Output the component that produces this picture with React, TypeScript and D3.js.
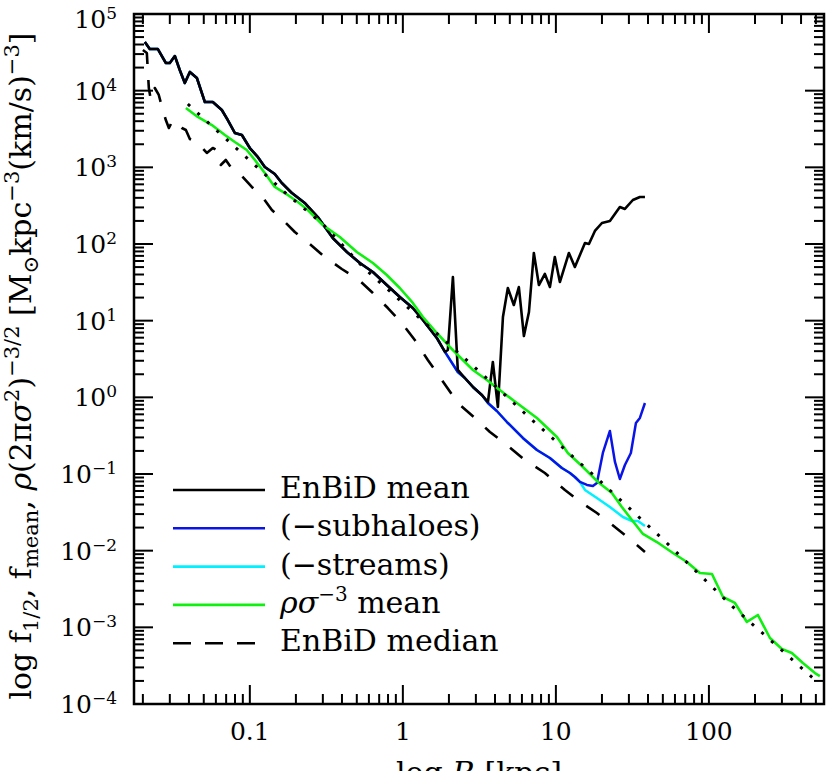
import React from 'react';
import * as d3 from 'd3';

// ---- axes ----
const X_DOMAIN: [number, number] = [0.0175, 565];
const Y_DOMAIN: [number, number] = [1e-4, 1e5];
const X_MAJOR = [0.1, 1, 10, 100];
const X_MAJOR_LABELS = ['0.1', '1', '10', '100'];
const Y_MAJOR_EXP = [-4, -3, -2, -1, 0, 1, 2, 3, 4, 5];

// ---- data: [log10 R (kpc), log10 f] ----
// inner part shared by EnBiD mean, (-subhaloes) and (-streams)
const sharedInner: [number, number][] = [
  [-1.686, 4.635], [-1.654, 4.543], [-1.601, 4.543], [-1.549, 4.361], [-1.523, 4.361],
  [-1.490, 4.452], [-1.458, 4.270], [-1.425, 4.100], [-1.392, 4.244], [-1.346, 4.165],
  [-1.294, 3.852], [-1.242, 3.852], [-1.183, 3.748], [-1.144, 3.617], [-1.098, 3.448],
  [-1.052, 3.422], [-1.000, 3.252], [-0.948, 3.135], [-0.902, 3.004], [-0.837, 2.913],
  [-0.791, 2.796], [-0.725, 2.665], [-0.641, 2.535], [-0.556, 2.352], [-0.458, 2.078],
  [-0.366, 1.896], [-0.281, 1.752], [-0.196, 1.635], [-0.105, 1.465], [-0.020, 1.309],
  [0.065, 1.165], [0.131, 1.009], [0.222, 0.774], [0.275, 0.592],
];
const meanOuter: [number, number][] = [
  [0.294, 0.618], [0.327, 1.570], [0.359, 0.357], [0.405, 0.252], [0.458, 0.135],
  [0.516, 0.031], [0.556, -0.061], [0.588, 0.461], [0.621, -0.126], [0.654, 1.048],
  [0.686, 1.426], [0.725, 1.204], [0.758, 1.439], [0.791, 0.800], [0.824, 1.113],
  [0.856, 1.883], [0.889, 1.465], [0.928, 1.609], [0.961, 1.439], [0.993, 1.831],
  [1.026, 1.504], [1.085, 1.883], [1.124, 1.700], [1.190, 2.013], [1.216, 2.000],
  [1.255, 2.170], [1.301, 2.274], [1.353, 2.300], [1.418, 2.483], [1.451, 2.457],
  [1.503, 2.574], [1.549, 2.613], [1.582, 2.613],
];
const subhaloMid: [number, number][] = [
  [0.359, 0.331], [0.405, 0.252], [0.458, 0.135], [0.516, 0.031], [0.556, -0.074],
  [0.614, -0.178], [0.680, -0.322], [0.784, -0.530], [0.876, -0.687], [0.961, -0.791],
  [1.039, -0.922], [1.092, -0.987], [1.124, -1.039], [1.157, -1.104],
];
const subhaloTail: [number, number][] = [
  [1.203, -1.143], [1.242, -1.156], [1.268, -1.117], [1.307, -0.726], [1.353, -0.439],
  [1.386, -0.843], [1.418, -1.065], [1.451, -0.882], [1.490, -0.726], [1.523, -0.335],
  [1.549, -0.269], [1.582, -0.074],
];
const streamsTail: [number, number][] = [
  [1.190, -1.208], [1.268, -1.313], [1.353, -1.430], [1.438, -1.561], [1.497, -1.613],
  [1.536, -1.613], [1.582, -1.678],
];
const rhoSigmaMean: [number, number][] = [
  [-1.418, 3.774], [-1.340, 3.657], [-1.248, 3.552], [-1.163, 3.422], [-1.098, 3.330],
  [-1.020, 3.226], [-0.967, 3.096], [-0.902, 2.926], [-0.837, 2.744], [-0.771, 2.665],
  [-0.686, 2.548], [-0.621, 2.444], [-0.523, 2.248], [-0.412, 2.091], [-0.301, 1.896],
  [-0.196, 1.752], [-0.105, 1.596], [-0.020, 1.426], [0.065, 1.231], [0.131, 1.048],
  [0.222, 0.839], [0.307, 0.657], [0.392, 0.487], [0.458, 0.357], [0.549, 0.226],
  [0.719, -0.035], [0.876, -0.269], [1.007, -0.517], [1.078, -0.726], [1.170, -0.896],
  [1.275, -1.104], [1.366, -1.248], [1.431, -1.430], [1.497, -1.600], [1.569, -1.782],
  [1.660, -1.887], [1.765, -2.030], [1.856, -2.148], [1.941, -2.291], [2.020, -2.304],
  [2.092, -2.604], [2.170, -2.682], [2.248, -2.930], [2.320, -2.839], [2.399, -3.139],
  [2.477, -3.283], [2.542, -3.335], [2.614, -3.465], [2.693, -3.596], [2.725, -3.635],
];
const enbidMedian: [number, number][] = [
  [-1.699, 4.530], [-1.673, 4.491], [-1.667, 4.270], [-1.660, 4.035], [-1.647, 3.878],
  [-1.621, 4.035], [-1.595, 3.944], [-1.569, 3.748], [-1.549, 3.617], [-1.529, 3.513],
  [-1.503, 3.617], [-1.444, 3.513], [-1.418, 3.487], [-1.392, 3.370], [-1.346, 3.330],
  [-1.281, 3.187], [-1.242, 3.252], [-1.216, 3.226], [-1.190, 3.030], [-1.157, 3.096],
  [-1.111, 2.965], [-1.052, 2.887], [-0.987, 2.744], [-0.922, 2.626], [-0.856, 2.444],
  [-0.784, 2.313], [-0.706, 2.157], [-0.608, 2.000], [-0.510, 1.831], [-0.399, 1.674],
  [-0.294, 1.544], [-0.203, 1.374], [-0.098, 1.165], [-0.007, 0.970], [0.078, 0.748],
  [0.163, 0.487], [0.255, 0.226], [0.359, -0.074], [0.471, -0.269], [0.569, -0.452],
  [0.680, -0.622], [0.797, -0.817], [0.928, -0.987], [1.059, -1.209], [1.170, -1.378],
  [1.268, -1.509], [1.353, -1.639], [1.418, -1.743], [1.484, -1.848], [1.582, -2.017],
];
const dottedFit: [number, number][] = [
  [-1.405, 3.826], [-1.098, 3.265], [-0.752, 2.639], [-0.523, 2.261], [-0.261, 1.700],
  [0.065, 1.113], [0.503, 0.331], [0.830, -0.269], [1.288, -1.091], [1.725, -1.900],
  [2.157, -2.734], [2.379, -3.126], [2.686, -3.674],
];

const enbidMean = [...sharedInner, ...meanOuter];
const minusSubhaloes = [...sharedInner, ...subhaloMid, ...subhaloTail];
const minusStreams = [...sharedInner, ...subhaloMid, ...streamsTail];

const legendItems = [
  { key: 'mean', color: '#000000', dash: '' },
  { key: 'sub', color: '#0a14e6', dash: '' },
  { key: 'str', color: '#00f0ff', dash: '' },
  { key: 'rho', color: '#10f010', dash: '' },
  { key: 'med', color: '#000000', dash: '18 14' },
];

export default function App() {
  const W = 830, H = 771;
  const L = 134, R = 824, T = 14, B = 704;
  const x = d3.scaleLog().domain(X_DOMAIN).range([L, R]);
  const y = d3.scaleLog().domain(Y_DOMAIN).range([B, T]);
  const line = d3.line<[number, number]>()
    .x((d) => x(Math.pow(10, d[0])))
    .y((d) => y(Math.pow(10, d[1])));

  const xMinor: number[] = [];
  for (let e = -2; e <= 2; e++) for (let m = 2; m <= 9; m++) {
    const v = m * Math.pow(10, e);
    if (v > X_DOMAIN[0] && v < X_DOMAIN[1]) xMinor.push(v);
  }
  const yMinor: number[] = [];
  for (let e = -4; e <= 4; e++) for (let m = 2; m <= 9; m++) yMinor.push(m * Math.pow(10, e));

  const MAJ = 19, MIN = 10;
  const tickStroke = 2;
  const font = 'DejaVu Serif';

  const legendY0 = 490, legendDy = 38.3;

  return (
    <div style={{ position: 'absolute', left: 0, top: 0 }}>
      <svg width={W} height={H} fontFamily={font} style={{ display: 'block', background: '#fff' }}>
        {/* curves */}
        <g fill="none" strokeLinejoin="round" strokeLinecap="butt">
          <path d={line(minusStreams) || ''} stroke="#00f0ff" strokeWidth={2.5} />
          <path d={line(minusSubhaloes) || ''} stroke="#0a14e6" strokeWidth={2.5} />
          <path d={line(enbidMean) || ''} stroke="#000" strokeWidth={2.6} />
          <path d={line(enbidMedian) || ''} stroke="#000" strokeWidth={2.6} strokeDasharray="16 16" />
          <path d={line(rhoSigmaMean) || ''} stroke="#10f010" strokeWidth={2.6} />
          <path d={line(dottedFit) || ''} stroke="#000" strokeWidth={3} strokeDasharray="3 10" />
        </g>

        {/* frame */}
        <rect x={L} y={T} width={R - L} height={B - T} fill="none" stroke="#000" strokeWidth={2.5} />

        {/* ticks on all four sides */}
        <g stroke="#000" strokeWidth={tickStroke}>
          {X_MAJOR.map((v) => (
            <g key={'xM' + v}>
              <line x1={x(v)} x2={x(v)} y1={B} y2={B - MAJ} />
              <line x1={x(v)} x2={x(v)} y1={T} y2={T + MAJ} />
            </g>
          ))}
          {xMinor.map((v) => (
            <g key={'xm' + v}>
              <line x1={x(v)} x2={x(v)} y1={B} y2={B - MIN} />
              <line x1={x(v)} x2={x(v)} y1={T} y2={T + MIN} />
            </g>
          ))}
          {Y_MAJOR_EXP.map((e) => (
            <g key={'yM' + e}>
              <line x1={L} x2={L + MAJ} y1={y(Math.pow(10, e))} y2={y(Math.pow(10, e))} />
              <line x1={R} x2={R - MAJ} y1={y(Math.pow(10, e))} y2={y(Math.pow(10, e))} />
            </g>
          ))}
          {yMinor.map((v) => (
            <g key={'ym' + v}>
              <line x1={L} x2={L + MIN} y1={y(v)} y2={y(v)} />
              <line x1={R} x2={R - MIN} y1={y(v)} y2={y(v)} />
            </g>
          ))}
        </g>

        {/* x tick labels */}
        {X_MAJOR.map((v, i) => (
          <text key={'xl' + v} x={x(v)} y={740} fontSize={25} textAnchor="middle">{X_MAJOR_LABELS[i]}</text>
        ))}
        {/* y tick labels */}
        {Y_MAJOR_EXP.map((e) => (
          <text key={'yl' + e} x={117} y={y(Math.pow(10, e)) + (e === 5 ? 14 : 9)} fontSize={25} textAnchor="end">
            10<tspan fontSize={17} dy={-9}>{e < 0 ? '\u2212' + Math.abs(e) : String(e)}</tspan>
          </text>
        ))}

        {/* axis titles */}
        <text x={(L + R) / 2} y={783} fontSize={30} textAnchor="middle">
          log <tspan fontStyle="italic">R</tspan> [kpc]
        </text>
        <text transform="translate(31, 366) rotate(-90)" fontSize={30} textAnchor="middle">
          log f<tspan fontSize={21} dy={7}>1/2</tspan><tspan dy={-7}>, f</tspan><tspan fontSize={21} dy={7}>mean</tspan><tspan dy={-7}>, </tspan><tspan fontStyle="italic">ρ</tspan>(2π<tspan fontStyle="italic">σ</tspan><tspan fontSize={21} dy={-12}>2</tspan><tspan dy={12}>)</tspan><tspan fontSize={21} dy={-12}>−3/2</tspan><tspan dy={12}> [M</tspan><tspan fontSize={21} dy={7}>⊙</tspan><tspan dy={-7}>kpc</tspan><tspan fontSize={21} dy={-12}>−3</tspan><tspan dy={12}>(km/s)</tspan><tspan fontSize={21} dy={-12}>−3</tspan><tspan dy={12}>]</tspan>
        </text>

        {/* legend */}
        {legendItems.map((it, i) => {
          const ly = legendY0 + i * legendDy;
          return (
            <g key={it.key}>
              <line x1={173} x2={265} y1={ly} y2={ly} stroke={it.color} strokeWidth={2.6}
                strokeDasharray={it.dash || undefined} />
              <text x={280} y={ly + 8} fontSize={30}>
                {i === 0 && 'EnBiD mean'}
                {i === 1 && '(\u2212subhaloes)'}
                {i === 2 && '(\u2212streams)'}
                {i === 3 && (
                  <>
                    <tspan fontStyle="italic">ρσ</tspan><tspan fontSize={20} dy={-12}>−3</tspan><tspan dy={12}> mean</tspan>
                  </>
                )}
                {i === 4 && 'EnBiD median'}
              </text>
            </g>
          );
        })}
      </svg>
    </div>
  );
}
